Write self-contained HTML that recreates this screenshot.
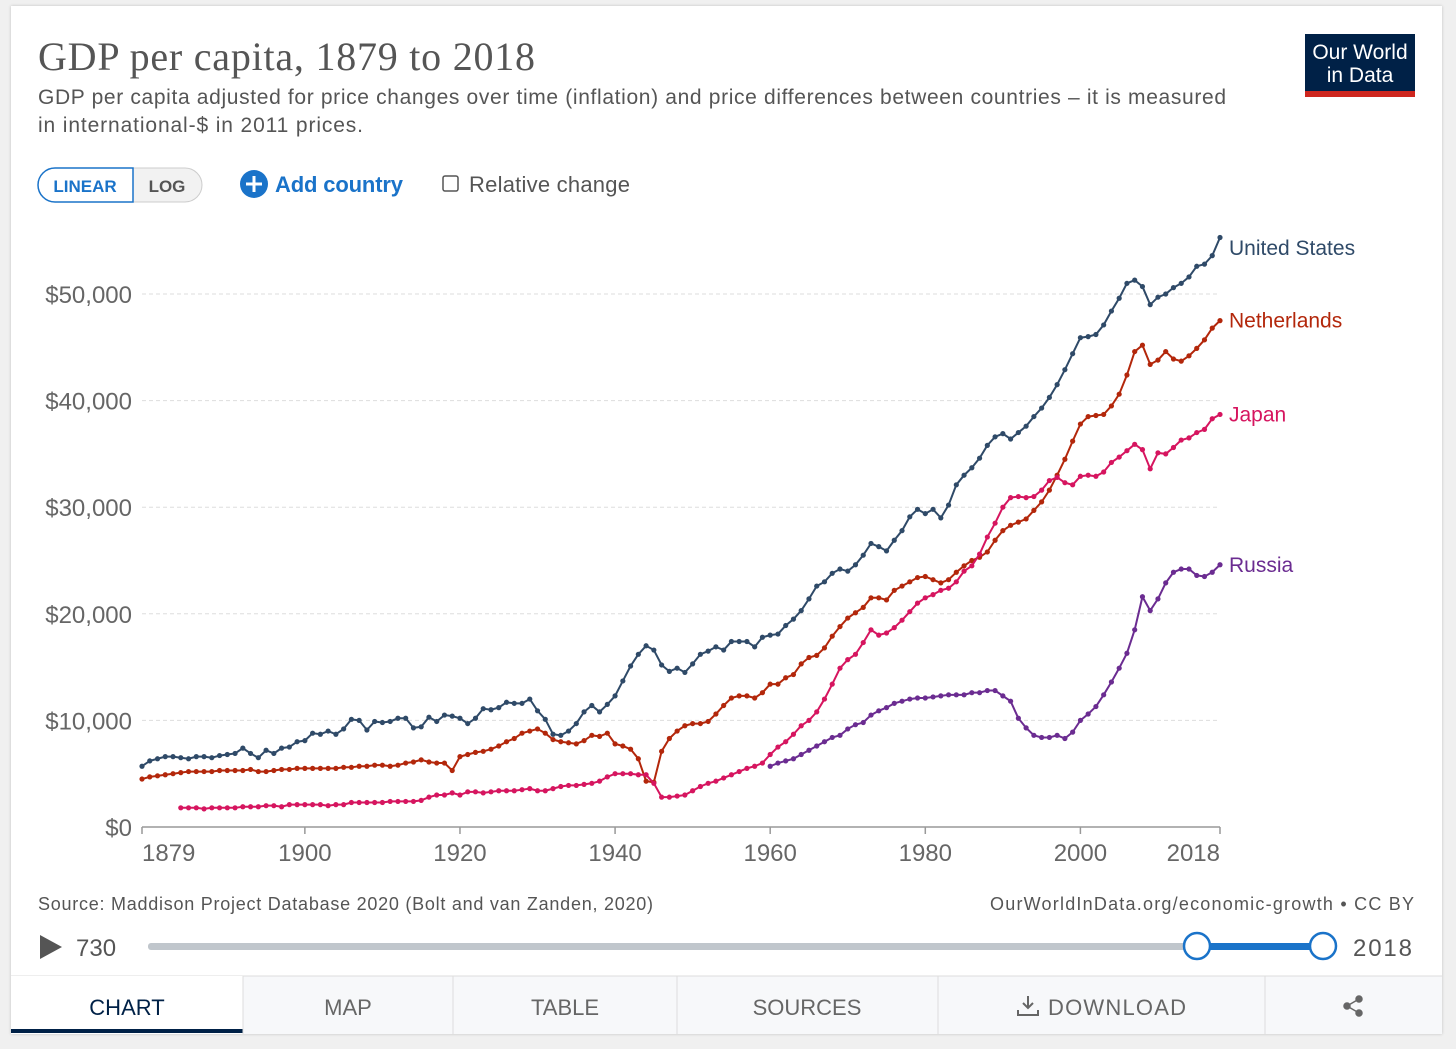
<!DOCTYPE html>
<html><head><meta charset="utf-8">
<style>
body{margin:0;width:1456px;height:1049px;background:#f0f0f0;font-family:"Liberation Sans",sans-serif;overflow:hidden}
#card{position:absolute;left:11px;top:6px;width:1431px;height:1028px;background:#fff;box-shadow:0 0 3px rgba(0,0,0,.2)}
svg text{font-family:"Liberation Sans",sans-serif}
</style></head><body>
<div id="card"></div>
<svg id="chart" width="1456" height="1049" style="position:absolute;left:0;top:0">
<text x="38" y="70" font-size="40" fill="#555" textLength="497" style="font-family:'Liberation Serif',serif">GDP per capita, 1879 to 2018</text>
<text x="38" y="104" font-size="21" fill="#555" textLength="1188">GDP per capita adjusted for price changes over time (inflation) and price differences between countries – it is measured</text>
<text x="38" y="132" font-size="21" fill="#555" textLength="325">in international-$ in 2011 prices.</text>
<g><rect x="1305" y="34" width="110" height="63" fill="#002147"/><rect x="1305" y="91" width="110" height="6" fill="#ce261e"/>
<text x="1360" y="59" font-size="21" fill="#fff" text-anchor="middle">Our World</text><text x="1360" y="82" font-size="21" fill="#fff" text-anchor="middle">in Data</text></g>
<g><rect x="38" y="168" width="164" height="34" rx="17" fill="#f2f2f2" stroke="#ccc"/><path d="M55 168 H133 V202 H55 A17 17 0 0 1 55 168Z" fill="#fff" stroke="#1a73c9" stroke-width="1.5"/><text x="85" y="192" font-size="17" fill="#1a73c9" text-anchor="middle" font-weight="bold">LINEAR</text></g>
<text x="167" y="192" font-size="17" fill="#555" text-anchor="middle" font-weight="bold">LOG</text>
<g><circle cx="254" cy="184" r="14" fill="#1a73c9"/><path d="M254 176v16M246 184h16" stroke="#fff" stroke-width="3"/><text x="275" y="192" font-size="22" fill="#1a73c9" font-weight="bold" textLength="128">Add country</text></g>
<g><rect x="443" y="176" width="15" height="15" rx="2" fill="#fff" stroke="#555" stroke-width="1.5"/><text x="469" y="192" font-size="22" fill="#555" textLength="161">Relative change</text></g>
<g id="grid"></g><g id="axes"></g><g id="series"></g>
<text x="38" y="910" font-size="18" fill="#555" textLength="615">Source: Maddison Project Database 2020 (Bolt and van Zanden, 2020)</text>
<text x="990" y="910" font-size="18" fill="#555" textLength="424">OurWorldInData.org/economic-growth • CC BY</text>
<path d="M40 935 L62 947 L40 959Z" fill="#555"/>
<text x="76" y="956" font-size="24" fill="#555">730</text>
<rect x="148" y="943" width="1176" height="7" rx="3" fill="#c0c6cc"/>
<rect x="1197" y="943" width="127" height="7" fill="#1a73c9"/>
<circle cx="1197" cy="946" r="13" fill="#fff" stroke="#1a73c9" stroke-width="2.5"/>
<circle cx="1323" cy="946" r="13" fill="#fff" stroke="#1a73c9" stroke-width="2.5"/>
<text x="1353" y="956" font-size="24" fill="#555" textLength="59">2018</text>
<rect x="11" y="976" width="1431" height="58" fill="#f7f8fa"/>
<line x1="11" y1="976" x2="1442" y2="976" stroke="#ddd"/>
<rect x="11" y="976" width="232" height="58" fill="#fff"/>
<rect x="11" y="1029" width="232" height="4" fill="#002147"/>
<text x="127" y="1015" font-size="22" fill="#002147" text-anchor="middle">CHART</text>
<g stroke="#ddd"><line x1="243" y1="976" x2="243" y2="1034"/><line x1="453" y1="976" x2="453" y2="1034"/><line x1="677" y1="976" x2="677" y2="1034"/><line x1="938" y1="976" x2="938" y2="1034"/><line x1="1265" y1="976" x2="1265" y2="1034"/></g>
<text x="348" y="1015" font-size="22" fill="#666" text-anchor="middle">MAP</text>
<text x="565" y="1015" font-size="22" fill="#666" text-anchor="middle">TABLE</text>
<text x="807" y="1015" font-size="22" fill="#666" text-anchor="middle">SOURCES</text>
<g><path d="M1028 996v12m-5-5l5 5 5-5M1018 1010v5h20v-5" stroke="#666" stroke-width="2" fill="none"/><text x="1048" y="1015" font-size="22" fill="#666" textLength="138">DOWNLOAD</text></g>
<g fill="#666" stroke="#666" stroke-width="1.5"><circle cx="1347" cy="1006" r="3"/><circle cx="1359" cy="999" r="3"/><circle cx="1359" cy="1013" r="3"/><line x1="1347" y1="1006" x2="1359" y2="999"/><line x1="1347" y1="1006" x2="1359" y2="1013"/></g>
</svg>
<script>
const yTicks=[0,10000,20000,30000,40000,50000];
const yTickLabels=["$0","$10,000","$20,000","$30,000","$40,000","$50,000"];
const xTicks=[1879,1900,1920,1940,1960,1980,2000,2018];
const seriesNames=["United States","Netherlands","Japan","Russia"];
const seriesColors=["#2f4a68","#b3270b","#d6155f","#6b2c91"];
const seriesStart=[1879,1879,1884,1960];
const usValues=[5.7,6.2,6.4,6.6,6.6,6.5,6.4,6.6,6.6,6.5,6.7,6.8,6.9,7.4,6.9,6.5,7.2,6.9,7.4,7.5,8.0,8.1,8.8,8.7,9.0,8.7,9.2,10.1,10.0,9.1,9.9,9.8,9.9,10.2,10.2,9.3,9.4,10.3,9.9,10.5,10.4,10.2,9.7,10.2,11.1,11.0,11.2,11.7,11.6,11.6,12.0,10.9,10.1,8.7,8.6,9.0,9.7,10.8,11.4,10.8,11.5,12.3,13.7,15.1,16.2,17.0,16.6,15.2,14.6,14.9,14.5,15.3,16.2,16.5,16.9,16.6,17.4,17.4,17.4,16.9,17.8,18.0,18.1,18.9,19.5,20.3,21.4,22.6,23.0,23.8,24.2,24.0,24.6,25.5,26.6,26.3,25.9,26.9,27.8,29.1,29.8,29.4,29.8,29.0,30.2,32.1,33.0,33.7,34.6,35.8,36.6,36.9,36.4,37.0,37.6,38.5,39.3,40.3,41.5,42.9,44.4,45.9,46.0,46.2,47.1,48.4,49.6,51.0,51.3,50.7,49.0,49.7,50.0,50.6,51.0,51.6,52.6,52.8,53.6,55.3];
const nlValues=[4.5,4.7,4.8,4.9,5.0,5.1,5.2,5.2,5.2,5.2,5.3,5.3,5.3,5.3,5.4,5.2,5.2,5.3,5.4,5.4,5.5,5.5,5.5,5.5,5.5,5.5,5.6,5.6,5.7,5.7,5.8,5.8,5.7,5.8,6.0,6.1,6.3,6.1,6.0,6.0,5.3,6.6,6.8,7.0,7.1,7.3,7.6,8.0,8.3,8.8,9.0,9.2,8.8,8.2,8.0,7.9,7.8,8.1,8.6,8.5,8.8,7.8,7.6,7.3,6.4,4.3,4.2,7.1,8.3,9.0,9.5,9.7,9.7,9.9,10.6,11.4,12.1,12.3,12.3,12.1,12.6,13.4,13.4,14.0,14.3,15.3,15.9,16.1,16.8,17.9,18.8,19.6,20.1,20.6,21.5,21.5,21.3,22.2,22.6,23.0,23.4,23.5,23.2,22.9,23.2,23.9,24.5,25.0,25.3,25.8,26.9,27.8,28.3,28.6,28.9,29.7,30.5,31.6,33.0,34.5,36.2,37.8,38.5,38.6,38.7,39.5,40.6,42.4,44.6,45.2,43.4,43.8,44.6,43.9,43.7,44.2,44.9,45.7,46.8,47.5];
const jpValues=[1.8,1.8,1.8,1.7,1.8,1.8,1.8,1.8,1.9,1.9,1.9,2.0,2.0,1.9,2.1,2.1,2.1,2.1,2.1,2.0,2.1,2.1,2.3,2.3,2.3,2.3,2.3,2.4,2.4,2.4,2.4,2.5,2.8,3.0,3.0,3.2,3.0,3.3,3.3,3.2,3.3,3.4,3.4,3.4,3.5,3.6,3.4,3.4,3.6,3.8,3.9,3.9,4.0,4.1,4.3,4.7,5.0,5.0,5.0,4.9,4.9,4.1,2.8,2.8,2.9,3.0,3.4,3.8,4.1,4.3,4.6,4.9,5.2,5.5,5.7,6.0,6.8,7.5,8.0,8.7,9.5,10.0,10.8,12.0,13.4,14.9,15.7,16.2,17.3,18.5,18.0,18.2,18.7,19.4,20.2,21.0,21.5,21.8,22.2,22.4,23.0,24.0,24.5,25.6,27.2,28.5,30.0,30.9,31.0,30.9,31.0,31.6,32.5,32.8,32.3,32.1,32.9,33.0,32.9,33.3,34.2,34.7,35.3,35.9,35.4,33.6,35.1,35.0,35.6,36.3,36.5,37.0,37.3,38.3,38.7];
const ruValues=[5.7,6.0,6.2,6.4,6.8,7.2,7.6,8.0,8.4,8.6,9.2,9.6,9.8,10.5,10.9,11.2,11.6,11.8,12.0,12.1,12.1,12.2,12.3,12.4,12.4,12.4,12.6,12.6,12.8,12.8,12.3,11.8,10.2,9.3,8.6,8.4,8.4,8.6,8.3,8.9,10.0,10.6,11.3,12.4,13.6,14.9,16.3,18.5,21.6,20.3,21.4,22.9,23.9,24.2,24.2,23.6,23.5,23.9,24.6];
const seriesValues=[usValues,nlValues,jpValues,ruValues];
const NS="http://www.w3.org/2000/svg";
const x0=142,x1=1220,yr0=1879,yr1=2018,yb=827,ytop=294,vtop=50000;
function xs(yr){return x0+(yr-yr0)*(x1-x0)/(yr1-yr0);}
function ys(v){return yb-v*(yb-ytop)/vtop;}
function mk(tag,attrs,parent){const e=document.createElementNS(NS,tag);for(const k in attrs)e.setAttribute(k,attrs[k]);parent.appendChild(e);return e;}
const grid=document.getElementById('grid'),axes=document.getElementById('axes'),ser=document.getElementById('series');
yTicks.forEach((t,i)=>{
  if(t>0){const l=mk('line',{x1:x0,x2:x1,y1:ys(t),y2:ys(t),stroke:'#ddd','stroke-dasharray':'4,3'},grid);
  
  }
  const tx=mk('text',{x:132,y:ys(t)+9,'font-size':24,fill:'#666','text-anchor':'end'},axes);
  tx.textContent=yTickLabels[i];
  
  
});
const ax=mk('line',{x1:x0,x2:x1,y1:yb,y2:yb,stroke:'#999','stroke-width':1.5},axes);


xTicks.forEach((t,i)=>{
  mk('line',{x1:xs(t),x2:xs(t),y1:yb,y2:yb+7,stroke:'#999','stroke-width':1.5},axes);
  const anchor=i===0?'start':(i===xTicks.length-1?'end':'middle');
  const tx=mk('text',{x:xs(t),y:861,'font-size':24,fill:'#666','text-anchor':anchor},axes);
  tx.textContent=t;
  
  
});
seriesValues.forEach((vals,s)=>{
  const g=mk('g',{},ser);
  
  
  const pts=vals.map((v,i)=>[xs(seriesStart[s]+i),ys(v*1000)]);
  mk('polyline',{points:pts.map(p=>p.join(',')).join(' '),fill:'none',stroke:seriesColors[s],'stroke-width':2},g);
  pts.forEach(p=>{const c=mk('circle',{cx:p[0],cy:p[1],r:2.6,fill:seriesColors[s]},g);
    
    });
  const last=pts[pts.length-1];
  const lb=mk('text',{x:1229,y:Math.max(last[1]+7,255),'font-size':21,fill:seriesColors[s]},g);
  lb.textContent=seriesNames[s];
  
  
});
</script>
</body></html>
